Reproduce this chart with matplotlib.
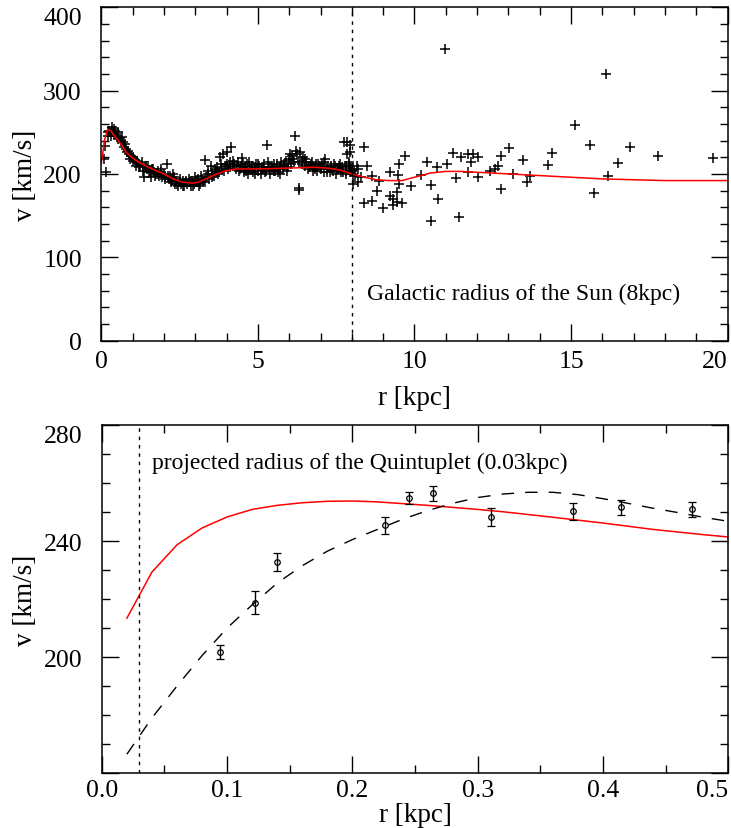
import numpy as np
import matplotlib
matplotlib.use("Agg")
import matplotlib.pyplot as plt
from matplotlib.ticker import MultipleLocator

plt.rcParams['font.family'] = ['Liberation Serif', 'DejaVu Serif']
plt.rcParams['mathtext.fontset'] = 'stix'

# ── Top panel: Galactic rotation curve ──────────────────────────────────
# dense inner disk measurements (r [kpc], v [km/s])
disk_r = [0.10, 0.12, 0.15, 0.20, 0.25, 0.30, 0.35, 0.40, 0.45, 0.50,
          0.55, 0.60, 0.65, 0.70, 0.75, 0.80, 0.85, 0.90, 0.95, 1.00,
          1.05, 1.10, 1.15, 1.20, 1.25, 1.30, 1.35, 1.40, 1.45, 1.50,
          1.55, 1.60, 1.65, 1.70, 1.75, 1.80, 1.85, 1.90, 1.95, 2.00,
          2.05, 2.10, 2.15, 2.20, 2.25, 2.30, 2.35, 2.40, 2.45, 2.50,
          2.55, 2.60, 2.65, 2.70, 2.75, 2.80, 2.85, 2.90, 2.95, 3.00,
          3.05, 3.10, 3.15, 3.20, 3.25, 3.30, 3.35, 3.40, 3.45, 3.50,
          3.55, 3.60, 3.65, 3.70, 3.75, 3.80, 3.85, 3.90, 3.95, 4.00,
          4.05, 4.10, 4.15, 4.20, 4.25, 4.30, 4.35, 4.40, 4.45, 4.50,
          4.55, 4.60, 4.65, 4.70, 4.75, 4.80, 4.85, 4.90, 4.95, 5.00,
          5.05, 5.10, 5.15, 5.20, 5.25, 5.30, 5.35, 5.40, 5.45, 5.50,
          5.55, 5.60, 5.65, 5.70, 5.75, 5.80, 5.85, 5.90, 5.95, 6.00,
          6.05, 6.10, 6.15, 6.20, 6.25, 6.30, 6.32, 6.35, 6.40, 6.45,
          6.50, 6.55, 6.60, 6.65, 6.70, 6.75, 6.80, 6.85, 6.90, 6.95,
          7.00, 7.05, 7.10, 7.15, 7.20, 7.25, 7.30, 7.35, 7.40, 7.45,
          7.50, 7.55, 7.60, 7.65, 7.70, 7.75, 7.80, 7.85, 7.90, 7.95, 8.00]
disk_v = [218, 234, 202, 245, 252, 250, 256, 248, 252, 246,
          250, 243, 244, 238, 236, 230, 228, 224, 222, 220,
          218, 214, 216, 212, 210, 214, 196, 208, 206, 210,
          204, 196, 206, 202, 200, 204, 198, 202, 196, 200,
          196, 212, 194, 198, 192, 200, 188, 192, 186, 190,
          188, 192, 186, 190, 188, 194, 186, 192, 188, 196,
          190, 194, 188, 198, 192, 217, 196, 200, 194, 210,
          200, 198, 204, 208, 202, 220, 206, 224, 210, 226,
          206, 214, 232, 210, 212, 206, 214, 204, 210, 219,
          202, 208, 212, 200, 206, 210, 202, 208, 212, 204,
          210, 200, 206, 212, 204, 235, 208, 200, 206, 212,
          204, 210, 202, 208, 214, 206, 210, 216, 208, 218,
          212, 222, 214, 246, 224, 181, 183, 226, 216, 220,
          210, 214, 206, 210, 212, 204, 208, 212, 204, 210,
          206, 212, 202, 218, 206, 210, 202, 208, 204, 210,
          200, 206, 210, 202, 208, 238, 204, 224, 210, 202, 206]
# second pass of inner disk measurements
disk2_r = [0.22, 0.32, 0.42, 0.52, 0.62, 0.72, 0.82, 0.92, 1.02, 1.12,
           1.22, 1.32, 1.42, 1.52, 1.62, 1.72, 1.82, 1.92, 2.02, 2.12,
           2.22, 2.32, 2.42, 2.52, 2.62, 2.72, 2.82, 2.92, 3.02, 3.12,
           3.22, 3.32, 3.42, 3.52, 3.62, 3.72, 3.82, 3.92, 4.02, 4.12,
           4.22, 4.32, 4.42, 4.52, 4.62, 4.72, 4.82, 4.92, 5.02, 5.12,
           5.22, 5.32, 5.42, 5.52, 5.62, 5.72, 5.82, 5.92, 6.02, 6.12,
           6.22, 6.32, 6.42, 6.52, 6.62, 6.72, 6.82, 6.92, 7.02, 7.12,
           7.22, 7.32, 7.42, 7.52, 7.62, 7.72, 7.82, 7.92, 7.97]
disk2_v = [250, 246, 254, 242, 240, 232, 226, 218, 216, 210,
           208, 204, 210, 202, 206, 198, 200, 206, 194, 198,
           190, 196, 188, 194, 186, 192, 190, 186, 192, 186,
           194, 190, 204, 196, 206, 200, 212, 204, 212, 208,
           216, 210, 206, 212, 204, 214, 206, 200, 212, 208,
           202, 214, 208, 204, 212, 200, 212, 204, 224, 218,
           228, 214, 212, 218, 208, 214, 206, 212, 208, 214,
           202, 210, 212, 206, 212, 202, 210, 214, 204]
# outer disk measurements
outer_r = [7.84, 7.94, 7.94, 8.05, 8.21, 8.39, 8.39, 8.47, 8.63, 8.63,
           8.79, 8.88, 8.98, 9.22, 9.22, 9.32, 9.32, 9.43, 9.43, 9.48,
           9.52, 9.52, 9.59, 9.70, 9.88, 10.21, 10.41, 10.52, 10.52, 10.73,
           10.76, 10.97, 11.03, 11.22, 11.32, 11.42, 11.47, 11.72, 11.72, 11.82,
           11.88, 12.04, 12.04, 12.40, 12.57, 12.67, 12.75, 12.75, 13.02, 13.15,
           13.45, 13.58, 13.68, 14.27, 14.40, 15.13, 15.60, 15.73, 16.10, 16.18,
           16.50, 16.87, 17.78, 19.53,
           7.70, 7.80, 7.90, 8.00, 8.10, 8.20, 8.30, 8.15, 8.05, 7.95]
outer_v = [238, 235, 226, 188, 190, 232, 165, 210, 198, 168,
           179, 191, 159, 202, 174, 170, 163, 178, 166, 199,
           212, 188, 165, 221, 186, 199, 214, 187, 143, 208,
           170, 350, 212, 225, 195, 148, 220, 224, 202, 214,
           224, 220, 196, 204, 206, 210, 222, 182, 231, 200,
           217, 190, 198, 211, 225, 259, 235, 177, 320, 198,
           213, 232, 222, 219,
           206, 200, 212, 204, 198, 206, 196, 210, 200, 208]

# model rotation curve
model_r = [0.0, 0.05, 0.1, 0.2, 0.3, 0.4, 0.6, 0.8, 1.0, 1.2,
           1.5, 1.8, 2.0, 2.3, 2.6, 2.9, 3.1, 3.4, 3.7, 4.0,
           4.3, 5.0, 6.0, 6.8, 7.2, 7.6, 8.0, 8.4, 8.8, 9.2,
           9.6, 10.0, 10.5, 11.0, 11.5, 12.0, 13.0, 14.0, 15.0, 16.0,
           17.0, 18.0, 19.0, 20.0]
model_v = [212, 225, 240, 253, 252, 247, 237, 226, 219, 214,
           208, 203, 200, 194, 190, 189, 190, 195, 200, 204,
           206, 206, 207, 208, 207, 205, 200, 196, 193, 192,
           192, 196, 201, 203, 203, 202, 200, 198, 196, 194,
           193, 192, 192, 192]

r_sun = 8.0

# ── Bottom panel: Galactic centre, Quintuplet ───────────────────────────
obs_r = [0.094, 0.122, 0.140, 0.226, 0.245, 0.264, 0.311, 0.376, 0.414, 0.471]
obs_v = [201.7, 218.7, 232.8, 245.4, 254.9, 256.4, 248.3, 250.2, 251.6, 250.9]
obs_err = [2.4, 4.0, 3.0, 3.0, 2.0, 2.5, 3.0, 3.0, 2.6, 2.6]

inner_model_r = [0.02, 0.04, 0.06, 0.08, 0.10, 0.12, 0.14, 0.16, 0.18, 0.20,
                 0.22, 0.24, 0.26, 0.28, 0.30, 0.32, 0.36, 0.40, 0.44, 0.48, 0.50]
inner_model_v = [213.4, 229.3, 238.7, 244.5, 248.3, 250.9, 252.3, 253.2, 253.7, 253.8,
                 253.5, 252.9, 252.3, 251.6, 250.9, 250.1, 248.2, 246.2, 244.0, 242.2, 241.4]

fit_r = [0.02, 0.04, 0.06, 0.08, 0.10, 0.12, 0.14, 0.16, 0.18, 0.20,
         0.22, 0.24, 0.26, 0.28, 0.30, 0.32, 0.34, 0.36, 0.38, 0.40,
         0.42, 0.44, 0.46, 0.48, 0.50]
fit_v = [166.5, 179, 190, 200.5, 210, 218, 225.5, 231.5, 236.5, 240.5,
         244, 247.5, 250.5, 253, 255, 256.2, 256.8, 256.8, 256, 254.6,
         253, 251.3, 249.8, 248.2, 246.8]

r_quint = 0.03

TICK_FS = 18.5
LABEL_FS = 19.5
NOTE_FS = 17


def style_axes(ax):
    ax.tick_params(which='both', direction='in', top=True, right=True,
                   labelsize=TICK_FS, width=1.0)
    ax.tick_params(which='major', length=12, pad=7)
    ax.tick_params(which='minor', length=6)
    ax.tick_params(axis='y', which='major', pad=14)
    for s in ax.spines.values():
        s.set_linewidth(1.1)
    # last x label sits flush with the right edge, top y label below the frame
    ax.get_xticklabels()[-1].set_horizontalalignment('right')
    ax.get_yticklabels()[-1].set_verticalalignment('top')


fig = plt.figure(figsize=(7.31, 8.29), dpi=100)

# top
ax1 = fig.add_axes([0.1385, 0.5880, 0.8570, 0.4020])
ax1.plot(disk_r, disk_v, '+', color='black', ms=7, mew=1.1)
ax1.plot(disk2_r, disk2_v, '+', color='black', ms=7, mew=1.1)
ax1.plot(outer_r, outer_v, '+', color='black', ms=7, mew=1.1)
ax1.plot(model_r, model_v, '-', color='red', lw=1.1)
ax1.axvline(r_sun, color='black', lw=1.0, ls=(0, (2.5, 3.5)))
ax1.text(8.5, 56, "Galactic radius of the Sun (8kpc)", fontsize=NOTE_FS,
         ha='left', va='center')
ax1.set_xlim(0, 20)
ax1.set_ylim(0, 400)
ax1.set_xticks([0, 5, 10, 15, 20])
ax1.set_xticklabels(["0", "5", "10", "15", "20"])
ax1.xaxis.set_minor_locator(MultipleLocator(1))
ax1.set_yticks([0, 100, 200, 300, 400])
ax1.set_yticklabels(["0", "100", "200", "300", "400"])
ax1.yaxis.set_minor_locator(MultipleLocator(20))
style_axes(ax1)
ax1.set_xlabel("r [kpc]", fontsize=LABEL_FS, labelpad=9)
ax1.set_ylabel("v [km/s]", fontsize=LABEL_FS, labelpad=4)

# bottom
ax2 = fig.add_axes([0.1393, 0.0663, 0.8570, 0.4198])
ax2.plot(inner_model_r, inner_model_v, '-', color='red', lw=1.1)
ax2.plot(fit_r, fit_v, color='black', lw=1.0, ls=(0, (9, 8)))
ax2.errorbar(obs_r, obs_v, yerr=obs_err, fmt='o', mfc='none', mec='black',
             ecolor='black', ms=4, mew=0.9, elinewidth=1.0, capsize=3,
             capthick=1.0)
ax2.axvline(r_quint, color='black', lw=1.0, ls=(0, (2.5, 3.5)))
ax2.text(0.0397, 267.2, "projected radius of the Quintuplet (0.03kpc)",
         fontsize=NOTE_FS, ha='left', va='center')
ax2.set_xlim(0, 0.5)
ax2.set_ylim(160, 280)
ax2.set_xticks([0.0, 0.1, 0.2, 0.3, 0.4, 0.5])
ax2.set_xticklabels(["0.0", "0.1", "0.2", "0.3", "0.4", "0.5"])
ax2.xaxis.set_minor_locator(MultipleLocator(0.05))
ax2.set_yticks([160, 200, 240, 280])
ax2.set_yticklabels(["", "200", "240", "280"])
ax2.yaxis.set_minor_locator(MultipleLocator(10))
style_axes(ax2)
ax2.tick_params(axis='x', which='major', pad=4)
ax2.set_xlabel("r [kpc]", fontsize=LABEL_FS, labelpad=1)
ax2.set_ylabel("v [km/s]", fontsize=LABEL_FS, labelpad=4)

fig.savefig("out.png", dpi=100)
